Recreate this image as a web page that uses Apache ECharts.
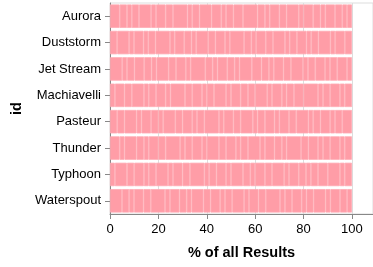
<!DOCTYPE html>
<html>
<head>
<meta charset="utf-8">
<script src="https://cdn.jsdelivr.net/npm/echarts@6/dist/echarts.min.js"></script>
<style>html,body{margin:0;padding:0;background:#fff}#c{width:373px;height:267px}</style>
</head>
<body>
<div id="c"></div>
<script>
const categories = ['Aurora','Duststorm','Jet Stream','Machiavelli','Pasteur','Thunder','Typhoon','Waterspout'];
const xTicks = [0, 20, 40, 60, 80, 100];
// result counts per id (each segment = one result group)
const aurora      = [4,3,2,3,5,2,4,3,6,2,3,5,4,2,3,4,6,3,2,4,3,5,2,4,3,2,4,3,2,2];
const duststorm   = [3,5,2,4,2,3,6,2,4,3,2,5,3,4,2,6,3,2,4,3,5,2,3,4,2,3,5,2,4,3];
const jetStream   = [5,2,3,4,3,2,5,3,4,2,6,3,2,4,3,2,5,4,3,2,4,3,5,2,3,4,2,3,4,2];
const machiavelli = [2,4,3,5,2,3,4,2,6,3,4,2,3,5,2,4,3,3,5,2,4,2,3,4,6,2,3,4,2,3];
const pasteur     = [3,3,5,2,4,3,2,5,3,4,2,3,6,2,4,3,5,2,3,4,2,4,3,5,2,3,4,2,3,4];
const thunder     = [4,2,5,3,2,4,3,6,2,3,4,2,5,3,4,2,3,5,2,4,3,2,6,3,4,2,3,4,2,3];
const typhoon     = [2,5,3,4,2,3,5,2,4,3,6,2,3,4,2,5,3,2,4,3,5,2,4,3,2,3,4,5,2,3];
const waterspout  = [5,3,2,4,3,6,2,4,3,2,5,3,4,2,3,5,2,4,3,6,2,3,4,2,3,5,2,4,3,2];

const rows = [aurora, duststorm, jetStream, machiavelli, pasteur, thunder, typhoon, waterspout];
const pct = rows.map(r => { const s = r.reduce((a, b) => a + b, 0); return r.map(v => v / s * 100); });
const nSeg = Math.max(...rows.map(r => r.length));
const series = [];
for (let i = 0; i < nSeg; i++) {
  series.push({
    type: 'bar', stack: 'total', barCategoryGap: '11%',
    data: pct.map(r => (r[i] !== undefined ? r[i] : 0)),
    itemStyle: { color: '#ff9da7', borderColor: '#ffabb4', borderWidth: 0.8 },
    silent: true
  });
}
const font = '"Liberation Sans", Arial, Helvetica, sans-serif';
const chart = echarts.init(document.getElementById('c'), null, { renderer: 'canvas' });
chart.setOption({
  animation: false,
  grid: { left: 110, right: 0, top: 3, bottom: 53, show: true, borderColor: '#ddd', borderWidth: 1, containLabel: false },
  xAxis: {
    type: 'value', min: 0, max: 108.7, interval: 20,
    name: '% of all Results', nameLocation: 'middle', nameGap: 31,
    nameTextStyle: { fontFamily: font, fontSize: 14.5, fontWeight: 'bold', color: '#000' },
    axisLine: { show: true, lineStyle: { color: '#888', width: 1 } },
    axisTick: { show: true, length: 5, lineStyle: { color: '#888' }, customValues: xTicks },
    axisLabel: { fontFamily: font, fontSize: 13, color: '#000', margin: 9, customValues: xTicks },
    splitLine: { show: true, lineStyle: { color: '#ddd', width: 1 } }
  },
  yAxis: {
    type: 'category', data: categories, inverse: true,
    name: 'id', nameLocation: 'middle', nameGap: 86, nameRotate: 90,
    nameTextStyle: { fontFamily: font, fontSize: 14.5, fontWeight: 'bold', color: '#000' },
    axisLine: { show: true, lineStyle: { color: '#888', width: 1 } },
    axisTick: { show: true, length: 5, alignWithLabel: true, lineStyle: { color: '#888' } },
    axisLabel: { fontFamily: font, fontSize: 13, color: '#000', margin: 9 },
    splitLine: { show: false }
  },
  series: series
});
</script>
</body>
</html>
